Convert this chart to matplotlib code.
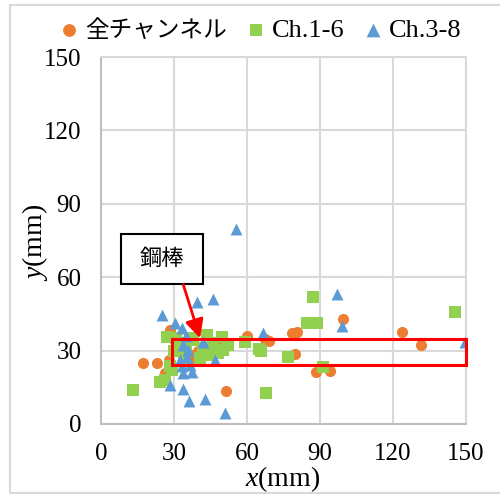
import matplotlib
matplotlib.use("Agg")
import matplotlib.pyplot as plt
from matplotlib.patches import Rectangle

plt.rcParams['font.family'] = ['Liberation Serif', 'Noto Sans CJK JP']
plt.rcParams['mathtext.fontset'] = 'custom'
plt.rcParams['mathtext.rm'] = 'Liberation Serif'
plt.rcParams['mathtext.it'] = 'Liberation Serif:italic'

# ---- data ----
all_x = [17.4, 22.9, 26.3, 28.4, 28.0, 36.6, 40.0, 45.0, 51.4, 60.0, 67.5, 69.0,
         78.4, 80.4, 79.7, 88.4, 94.1, 99.4, 123.6, 131.4, 33.0, 38.0, 48.9]
all_y = [24.8, 24.8, 20.7, 38.5, 26.0, 26.0, 30.0, 32.0, 13.4, 35.8, 34.8, 34.0,
         37.2, 37.8, 28.6, 21.4, 21.8, 43.0, 37.8, 32.3, 31.0, 28.0, 31.6]

ch16_x = [13.3, 24.2, 26.5, 27.3, 28.4, 29.0, 30.0, 32.0, 34.0, 36.6, 38.0, 40.7,
          42.0, 43.4, 45.0, 46.0, 48.0, 49.6, 50.3, 52.2, 59.2, 65.0, 65.8, 67.7,
          77.0, 84.5, 88.7, 87.0, 91.1, 145.5, 31.0, 35.0, 44.0]
ch16_y = [13.9, 17.2, 18.0, 35.7, 23.5, 22.0, 30.0, 33.0, 28.0, 35.0, 34.4, 26.9,
          31.0, 36.4, 30.0, 33.0, 29.0, 35.7, 30.3, 32.3, 33.7, 30.5, 30.0, 12.8,
          27.3, 41.2, 41.2, 51.9, 23.2, 45.7, 35.0, 31.0, 28.0]

ch38_x = [24.9, 30.4, 33.2, 39.3, 45.9, 55.5, 28.4, 33.8, 36.3, 42.7, 51.0, 46.9,
          42.0, 66.7, 96.9, 99.1, 149.5, 33.8, 35.9, 32.5, 35.2, 33.8, 37.3, 35.0,
          33.2, 36.5]
ch38_y = [44.6, 41.2, 39.2, 49.7, 51.0, 79.7, 16.0, 14.4, 9.6, 10.2, 4.4, 26.2,
          33.7, 37.1, 53.2, 40.1, 33.7, 32.3, 30.3, 26.2, 27.5, 20.7, 21.4, 36.0,
          23.5, 24.0]

labels = ['全チャンネル', 'Ch.1-6', 'Ch.3-8']
ticks = [0, 30, 60, 90, 120, 150]

fig = plt.figure(figsize=(5.0, 4.97), dpi=100)
ax = fig.add_axes([0.202, 0.1469, 0.730, 0.7384])

ax.scatter(all_x, all_y, s=64, marker='o', color='#ED7D31', linewidths=0, label=labels[0], zorder=3)
ax.scatter(ch16_x, ch16_y, s=66, marker='s', color='#92D050', linewidths=0, label=labels[1], zorder=4)
ax.scatter(ch38_x, ch38_y, s=74, marker='^', color='#5B9BD5', linewidths=0, label=labels[2], zorder=5)

ax.set_xlim(0, 150)
ax.set_ylim(0, 150)
ax.set_xticks(ticks)
ax.set_yticks(ticks)
ax.tick_params(length=0, labelsize=18, pad=14)
ax.grid(True, color='#d9d9d9', lw=1.5, zorder=0)
ax.set_axisbelow(True)
for sp in ax.spines.values():
    sp.set_color('#d9d9d9')
    sp.set_linewidth(1.5)
ax.spines['left'].set_color('#bfbfbf')
ax.spines['bottom'].set_color('#bfbfbf')

# red rectangle region
ax.add_patch(Rectangle((29, 24.3), 121, 10.5, fill=False, ec='#ff0000', lw=2.2, zorder=6, clip_on=False))

# annotation box
ax.add_patch(Rectangle((8.1, 57.2), 33.7, 20.6, fc='white', ec='black', lw=1.5, zorder=7))
ax.text(24.95, 67.5, '鋼棒', ha='center', va='center', fontsize=16,
        family=['Noto Sans CJK JP'], zorder=8)
ax.annotate('', xy=(40.7, 35.1), xytext=(33.8, 57.0),
            arrowprops=dict(arrowstyle='-|>', color='#ff0000', lw=2, mutation_scale=28,
                            shrinkA=0, shrinkB=0), zorder=8)

fig.text(283/500, 1-479/497, '$x$(mm)', ha='center', va='center', fontsize=20)
fig.text(35/500, 1-242/497, '$y$(mm)', ha='center', va='center', fontsize=20, rotation=90)

leg = fig.legend(loc='center', bbox_to_anchor=(0.522, 1-30/497), ncol=3, frameon=False,
                 fontsize=19, handletextpad=0.25, columnspacing=0.75, handlelength=0.7,
                 markerscale=1.15, borderaxespad=0)
leg.get_texts()[0].set_fontsize(17)

fig.add_artist(Rectangle((10/500, 4/497), 1.2, 1-9/497, transform=fig.transFigure,
                         fill=False, ec='#d9d9d9', lw=1.5))

fig.savefig('out.png', dpi=100)
